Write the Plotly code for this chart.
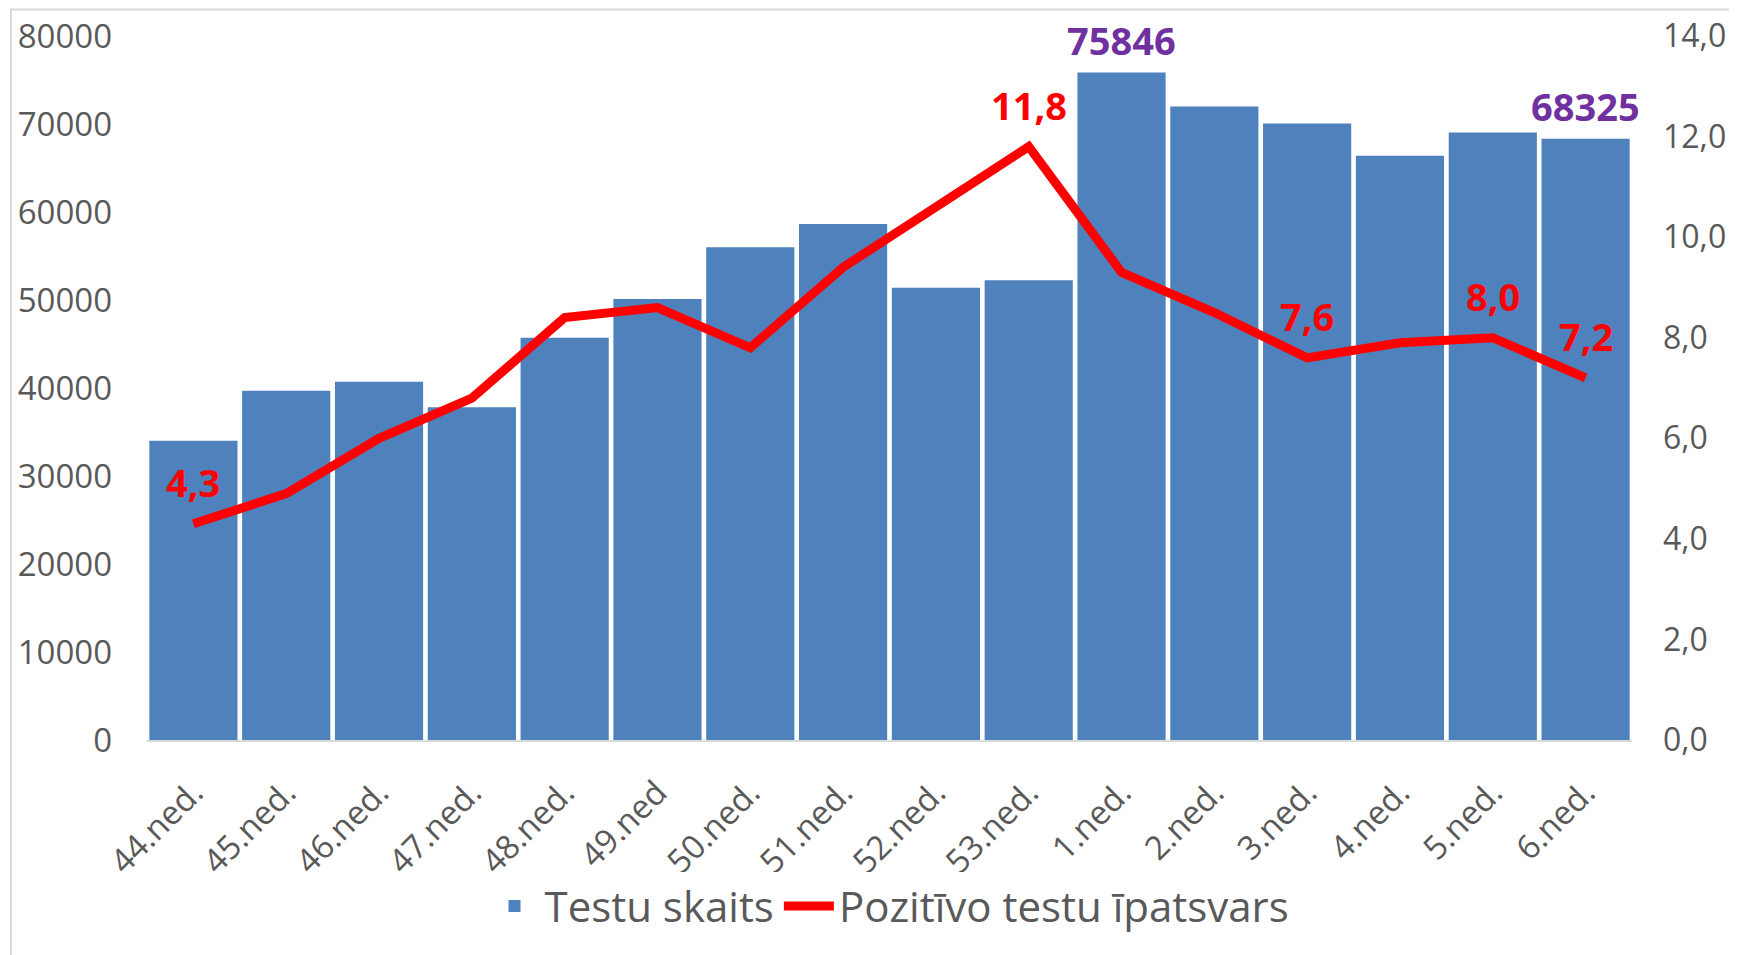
import plotly.graph_objects as go

# dati
nedelas = ["44.ned.", "45.ned.", "46.ned.", "47.ned.", "48.ned.", "49.ned",
           "50.ned.", "51.ned.", "52.ned.", "53.ned.", "1.ned.", "2.ned.",
           "3.ned.", "4.ned.", "5.ned.", "6.ned."]
testu_skaits = [34000, 39700, 40700, 37800, 45700, 50100, 56000, 58650,
                51400, 52250, 75846, 72000, 70050, 66400, 69020, 68325]
pozitivo_ipatsvars = [4.3, 4.9, 6.0, 6.8, 8.4, 8.6, 7.8, 9.4,
                      10.6, 11.8, 9.3, 8.5, 7.6, 7.9, 8.0, 7.2]

# kuriem punktiem rada vertibas
bar_label_idx = [10, 15]
line_label_idx = [0, 9, 12, 14, 15]

FONT = "Open Sans, Noto Sans, sans-serif"
GREY = "#595959"

fig = go.Figure()

fig.add_trace(go.Bar(
    x=nedelas, y=testu_skaits, name="Testu skaits",
    marker=dict(color="#4F81BD", line=dict(width=0)),
))

fig.add_trace(go.Scatter(
    x=nedelas, y=pozitivo_ipatsvars, name="Pozitīvo testu īpatsvars",
    yaxis="y2", mode="lines",
    line=dict(color="#FF0000", width=9),
))

annotations = []
for i in bar_label_idx:
    annotations.append(dict(
        x=nedelas[i], y=testu_skaits[i], xref="x", yref="y",
        text=str(testu_skaits[i]), showarrow=False, yanchor="middle", yshift=33,
        font=dict(family=FONT, size=38, color="#7030A0", weight="bold"),
    ))
for i in line_label_idx:
    annotations.append(dict(
        x=nedelas[i], y=pozitivo_ipatsvars[i], xref="x", yref="y2",
        text=f"{pozitivo_ipatsvars[i]:.1f}".replace(".", ","), showarrow=False,
        yanchor="middle", yshift=42,
        font=dict(family=FONT, size=38, color="#FF0000", weight="bold"),
    ))

# lapai ir 8px atkape, tapec figura nedaudz mazaka
fig.update_layout(
    width=1729, height=947,
    margin=dict(l=139, r=105, t=28, b=215),
    paper_bgcolor="white", plot_bgcolor="white",
    separators=", ",
    bargap=0.05,
    font=dict(family=FONT, color=GREY),
    xaxis=dict(
        range=[-0.5, len(nedelas) - 0.5],
        tickangle=-45, tickfont=dict(size=33, color=GREY),
        showline=True, linecolor="#D9D9D9", linewidth=2,
        showgrid=False, ticks="", ticklabelstandoff=18, automargin=False,
    ),
    yaxis=dict(
        range=[0, 80000], dtick=10000, tickformat="d",
        tickfont=dict(size=33, color=GREY),
        showgrid=False, zeroline=False, ticklabelstandoff=34, automargin=False,
    ),
    yaxis2=dict(
        range=[0, 14], dtick=2, tickformat=".1f", overlaying="y", side="right",
        tickfont=dict(size=32, color=GREY),
        showgrid=False, zeroline=False, ticklabelstandoff=30, automargin=False,
    ),
    legend=dict(
        orientation="h", x=0.5, xanchor="center", y=-0.236, yanchor="middle",
        font=dict(size=42, color=GREY), itemwidth=50,
    ),
    annotations=annotations,
    shapes=[dict(
        type="rect", xref="paper", yref="paper",
        x0=-0.0916, x1=1.08, y0=-0.32, y1=1.0377,
        line=dict(color="#D9D9D9", width=2), layer="below",
    )],
    showlegend=True,
)

fig.write_html("out.html")
